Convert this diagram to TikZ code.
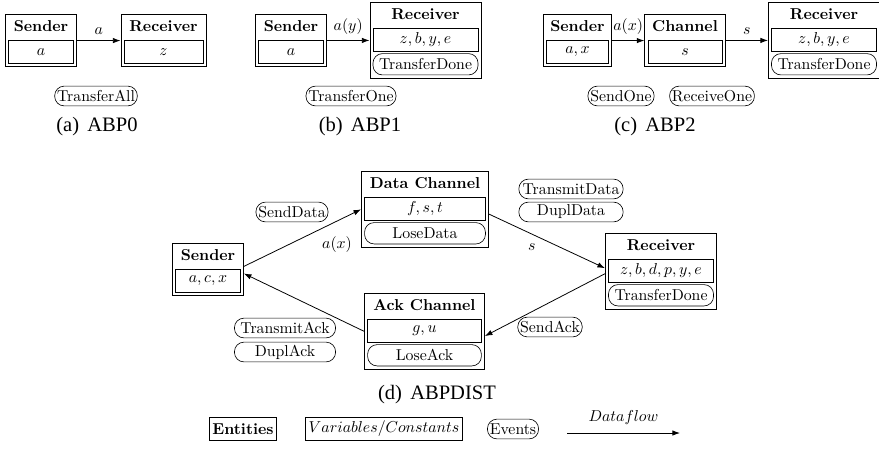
\documentclass[tikz,border=0pt]{standalone}
\usepackage{fontspec}
\newfontfamily\capfont{Liberation Serif}
\usetikzlibrary{arrows.meta, positioning, fit}

\begin{document}
\begin{tikzpicture}[
    x=0.633pt, y=-0.633pt,
    %% -- styles --------------------------------------------------
    title/.style={font=\bfseries, inner sep=1.5pt, text height=7.5pt, text depth=2.5pt},
    var/.style={draw, rectangle, minimum height=14.5pt, inner sep=1pt},
    entity/.style={draw, rectangle, inner sep=1.8pt},
    evt/.style={draw, rectangle, rounded corners=6pt, minimum height=12.5pt, inner sep=1.5pt},
    inevt/.style={evt, minimum height=13.5pt},
    legbox/.style={draw, rectangle, minimum height=14.5pt, inner sep=2pt},
    caption/.style={font=\capfont\fontsize{13}{15}\selectfont},
    flow/.style={-{Latex[length=4.8pt, width=3.4pt]}, line width=0.5pt}
]
\useasboundingbox (0,0) rectangle (879,469);

%% -- (a) ABP0 ---------------------------------------------------
\node[title] (a-snd-t) at (41,28) {Sender};
\node[var, minimum width=41pt, below=1pt of a-snd-t] (a-snd-v) {$a$};
\node[entity, fit=(a-snd-t)(a-snd-v)] (a-snd) {};
\node[title] (a-rcv-t) at (163.5,28) {Receiver};
\node[var, minimum width=50pt, below=1pt of a-rcv-t] (a-rcv-v) {$z$};
\node[entity, fit=(a-rcv-t)(a-rcv-v)] (a-rcv) {};
\node[evt] (a-all) at (96,96) {TransferAll};
\node[caption] (a-cap) at (97,127) {(a)\hspace{0.4em}ABP0};
\draw[flow] (a-snd) -- node[above] {$a$} (a-rcv);

%% -- (b) ABP1 ---------------------------------------------------
\node[title] (b-snd-t) at (291,28) {Sender};
\node[var, minimum width=41pt, below=1pt of b-snd-t] (b-snd-v) {$a$};
\node[entity, fit=(b-snd-t)(b-snd-v)] (b-snd) {};
\node[title] (b-rcv-t) at (425.5,16) {Receiver};
\node[var, minimum width=66.5pt, below=1pt of b-rcv-t] (b-rcv-v) {$z,b,y,e$};
\node[inevt, minimum width=66.5pt, below=1pt of b-rcv-v] (b-rcv-e) {TransferDone};
\node[entity, fit=(b-rcv-t)(b-rcv-v)(b-rcv-e)] (b-rcv) {};
\node[evt] (b-one) at (351,96) {TransferOne};
\node[caption] (b-cap) at (360,127) {(b)\hspace{0.4em}ABP1};
\draw[flow] (b-snd) -- node[above] {$a(y)$} (b-rcv);

%% -- (c) ABP2 ---------------------------------------------------
\node[title] (c-snd-t) at (577.5,28) {Sender};
\node[var, minimum width=39pt, below=1pt of c-snd-t] (c-snd-v) {$a,x$};
\node[entity, fit=(c-snd-t)(c-snd-v)] (c-snd) {};
\node[title] (c-chn-t) at (685,28) {Channel};
\node[var, minimum width=47pt, below=1pt of c-chn-t] (c-chn-v) {$s$};
\node[entity, fit=(c-chn-t)(c-chn-v)] (c-chn) {};
\node[title] (c-rcv-t) at (824,16) {Receiver};
\node[var, minimum width=66.5pt, below=1pt of c-rcv-t] (c-rcv-v) {$z,b,y,e$};
\node[inevt, minimum width=66.5pt, below=1pt of c-rcv-v] (c-rcv-e) {TransferDone};
\node[entity, fit=(c-rcv-t)(c-rcv-v)(c-rcv-e)] (c-rcv) {};
\node[evt] (c-send) at (621,96) {SendOne};
\node[evt] (c-recv) at (712,96) {ReceiveOne};
\node[caption] (c-cap) at (655,127) {(c)\hspace{0.4em}ABP2};
\draw[flow] (c-snd) -- node[above] {$a(x)$} (c-chn);
\draw[flow] (c-chn) -- node[above] {$s$} (c-rcv);

%% -- (d) ABPDIST ------------------------------------------------
\node[title] (d-snd-t) at (208,257) {Sender};
\node[var, minimum width=41pt, below=1pt of d-snd-t] (d-snd-v) {$a,c,x$};
\node[entity, fit=(d-snd-t)(d-snd-v)] (d-snd) {};
\node[title] (d-dc-t) at (425,185) {Data Channel};
\node[var, minimum width=76.5pt, below=1pt of d-dc-t] (d-dc-v) {$f,s,t$};
\node[inevt, minimum width=76.5pt, below=1pt of d-dc-v] (d-dc-e) {LoseData};
\node[entity, fit=(d-dc-t)(d-dc-v)(d-dc-e)] (d-dc) {};
\node[title] (d-rcv-t) at (661,247) {Receiver};
\node[var, minimum width=66.5pt, below=1pt of d-rcv-t] (d-rcv-v) {$z,b,d,p,y,e$};
\node[inevt, minimum width=66.5pt, below=1pt of d-rcv-v] (d-rcv-e) {TransferDone};
\node[entity, fit=(d-rcv-t)(d-rcv-v)(d-rcv-e)] (d-rcv) {};
\node[title] (d-ack-t) at (424.5,307) {Ack Channel};
\node[var, minimum width=72pt, below=1pt of d-ack-t] (d-ack-v) {$g,u$};
\node[inevt, minimum width=72pt, below=1pt of d-ack-v] (d-ack-e) {LoseAck};
\node[entity, fit=(d-ack-t)(d-ack-v)(d-ack-e)] (d-ack) {};
%% events next to the flows
\node[evt] (d-senddata) at (292,212) {SendData};
\node[evt, minimum width=66pt] (d-transdata) at (571,189) {TransmitData};
\node[evt, minimum width=66pt] (d-dupldata) at (571,212) {DuplData};
\node[evt] (d-sendack) at (550,327) {SendAck};
\node[evt, minimum width=64pt] (d-transack) at (285,328) {TransmitAck};
\node[evt, minimum width=64pt] (d-duplack) at (285,352) {DuplAck};
\node[caption] (d-cap) at (437,395) {(d)\hspace{0.4em}ABPDIST};
%% flows
\draw[flow] ([yshift=2pt]d-snd.east) -- node[pos=.62, below right=0pt] {$a(x)$} (d-dc.west);
\draw[flow] ([yshift=-3pt]d-dc.east) -- node[pos=.45, below left=0pt] {$s$} ([yshift=2pt]d-rcv.west);
\draw[flow] ([yshift=-1.5pt]d-rcv.west) -- ([yshift=-3pt]d-ack.east);
\draw[flow] (d-ack.west) -- ([yshift=-2.5pt]d-snd.east);

%% -- legend -----------------------------------------------------
\node[legbox, font=\bfseries] (lg-ent) at (243,429) {Entities};
\node[legbox] (lg-var) at (384,429) {$Variables/Constants$};
\node[evt] (lg-evt) at (513,429) {Events};
\coordinate (lg-from) at (567,433);
\coordinate (lg-to) at (680,433);
\draw[flow] (lg-from) -- node[above=2pt] {$Dataflow$} (lg-to);

\end{tikzpicture}
\end{document}
